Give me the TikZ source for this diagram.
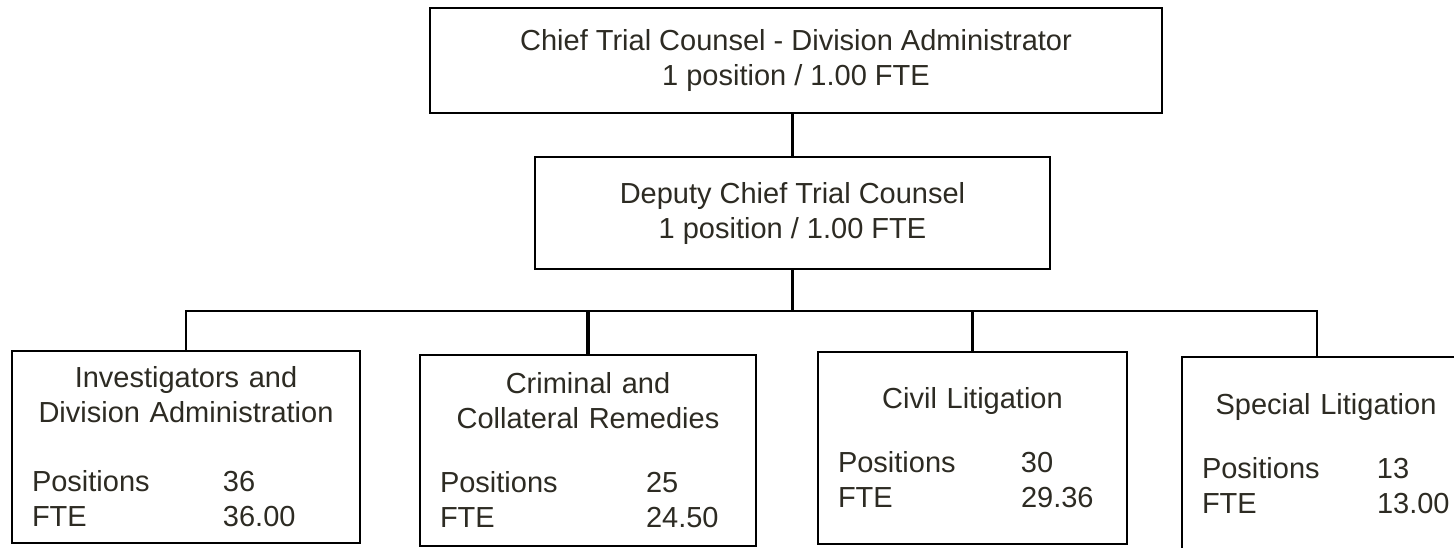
\documentclass[tikz,border=0pt]{standalone}
\usepackage{fontspec}
\setmainfont{Liberation Sans}
\usetikzlibrary{calc}
\definecolor{ink}{RGB}{45,43,35}
\NewDocumentCommand\counts{mmm}{\makebox[#1][l]{Positions}#2\\\makebox[#1][l]{FTE}#3}

\begin{document}
\begin{tikzpicture}[x=1pt,y=-1pt,
    box/.style={draw=black,line width=2.6pt,fill=white,text=ink,inner sep=0pt,
      font=\fontsize{29}{35}\selectfont},
    unit/.style={box,inner xsep=20pt},
    link/.style={draw=black,line width=2.6pt}]
    \clip (0,0) rectangle (1454,547);
    \useasboundingbox (0,0) rectangle (1454,547);
    % heads
    \node[box,align=center,minimum width=732pt,minimum height=105pt] (chief) at (796,60.5)
        {Chief Trial Counsel - Division Administrator\\1 position / 1.00 FTE};
    \node[box,align=center,minimum width=515pt,minimum height=112pt] (dep) at (792.5,213)
        {Deputy Chief Trial Counsel\\1 position / 1.00 FTE};
    % units
    \node[unit,text width=308pt,minimum height=192pt] (inv) at (186,447)
        {{\centering Investigators and\\Division Administration\par}\vspace{34pt}\counts{191pt}{36}{36.00}};
    \node[unit,text width=296pt,minimum height=191pt] (crim) at (588,450.5)
        {{\centering Criminal and\\Collateral Remedies\par}\vspace{29pt}\counts{206pt}{25}{24.50}};
    \node[unit,text width=269pt,minimum height=192pt] (civ) at (972.5,448)
        {{\centering Civil Litigation\par}\vspace{29pt}\counts{183pt}{30}{29.36}};
    \node[unit,text width=248pt,minimum height=193pt] (spec) at (1326,453.5)
        {{\centering Special Litigation\par}\vspace{29pt}\counts{175pt}{13}{13.00}};
    \coordinate (bus) at (793,311);
    \coordinate (j4) at (1317,311);
    \draw[link] (dep.north) -- (dep.north |- chief.south);
    \draw[link] (dep.south) -- (dep.south |- bus);
    \draw[link] (inv.north) -- (inv.north |- bus) -- (j4) -- (j4 |- spec.north);
    \draw[link,line width=3.5pt] (crim.north) -- (crim.north |- bus);
    \draw[link] (civ.north) -- (civ.north |- bus);
\end{tikzpicture}
\end{document}
